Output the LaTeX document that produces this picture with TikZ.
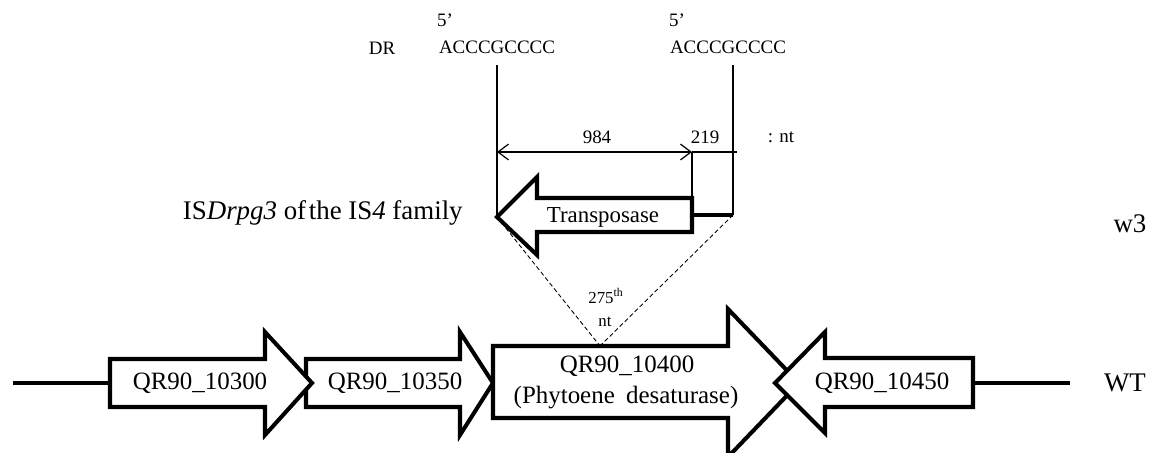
\documentclass[tikz,border=0pt]{standalone}
\usepackage{fontspec}
\setmainfont{Liberation Serif}
\usetikzlibrary{arrows.meta}
\newcommand{\fsz}[1]{\fontsize{#1}{1.2\dimexpr#1\relax}\selectfont}
\tikzset{
  gene/.style={draw=black, fill=white, line width=2.3pt, line join=miter},
  thinline/.style={draw=black, line width=0.7pt},
  dashline/.style={draw=black, line width=0.5pt, dash pattern=on 2.5pt off 1.5pt},
  dimarrow/.style={thinline, {Straight Barb[length=6pt,width=9pt]}-{Straight Barb[length=6pt,width=9pt]}},
  genelabel/.style={inner sep=0pt, font=\fsz{14.2pt}},
  biglabel/.style={inner sep=0pt, font=\fsz{15.3pt}},
  smalllabel/.style={inner sep=0pt, font=\fsz{10.8pt}},
  tinylabel/.style={inner sep=0pt, font=\fsz{9.6pt}},
}
\begin{document}
\begin{tikzpicture}[x=0.02cm, y=-0.02cm]
\useasboundingbox (0,0) rectangle (1160,453);

% key coordinates
\coordinate (tipT) at (497,217);
\coordinate (endT) at (733,215);
\coordinate (ins) at (600,346);
\coordinate (vL) at (497,65);
\coordinate (vR) at (733,65);
\coordinate (dimL) at (497,152);
\coordinate (dimM) at (692,152);
\coordinate (dimR) at (737,152);
\coordinate (bodyTop) at (692,198);
\coordinate (lineL0) at (13,383);
\coordinate (lineL1) at (110,383);
\coordinate (lineR0) at (973,383);
\coordinate (lineR1) at (1070,383);

% baseline segments
\draw[line width=2.3pt] (lineL0) -- (lineL1);
\draw[line width=2.3pt] (lineR0) -- (lineR1);

% vertical reference lines and dimension
\draw[thinline] (vL) -- (tipT);
\draw[thinline] (vR) -- (endT);
\draw[dimarrow] (dimL) -- (dimM);
\draw[thinline] (dimM) -- (dimR);
\draw[thinline] (dimM) -- (bodyTop);

% dashed insertion lines
\draw[dashline] (tipT) -- (ins);
\draw[dashline] (endT) -- (ins);

% gene arrows
\draw[gene] (306,359) -- (460,359) -- (460,332) -- (493,383) -- (460,435) -- (460,407) -- (306,407) -- cycle;
\draw[gene] (110,359) -- (265,359) -- (265,332) -- (312,383) -- (265,435) -- (265,407) -- (110,407) -- cycle;
\draw[gene] (493,346) -- (728,346) -- (728,309) -- (799,383) -- (728,457) -- (728,418) -- (493,418) -- cycle;
\draw[gene] (973,358) -- (825,358) -- (825,332) -- (775,383) -- (825,433) -- (825,407) -- (973,407) -- cycle;

% transposase arrow
\draw[line width=2.3pt] (692,215) -- (endT);
\draw[gene] (692,198) -- (537,198) -- (537,177) -- (tipT) -- (537,255) -- (537,232) -- (692,232) -- cycle;

% labels
\node[genelabel] (g1) at (200,383) {QR90\_10300};
\node[genelabel] (g2) at (395,383) {QR90\_10350};
\node[genelabel] (g3) at (627,366) {QR90\_10400};
\node[genelabel] (g3b) at (626,398) {(Phytoene\hspace{0.45em}desaturase)};
\node[genelabel] (g4) at (882,383) {QR90\_10450};
\node[inner sep=0pt, font=\fsz{13pt}] (tp) at (603,217) {Transposase};
\node[biglabel, anchor=east] (isl) at (463,213) {IS\textit{Drpg3} of\hspace{0.1em}the IS\textit{4} family};
\node[biglabel] (wt) at (1125,383) {WT};
\node[biglabel] (w3) at (1130,224) {w3};

\node[smalllabel] (dr) at (382,48) {DR};
\node[smalllabel] (p1) at (445,20) {5’};
\node[smalllabel] (s1) at (497,47) {ACCCGCCCC};
\node[smalllabel] (p2) at (677,20) {5’};
\node[smalllabel] (s2) at (728,47) {ACCCGCCCC};
\node[smalllabel] (n984) at (597,137) {984};
\node[smalllabel] (n219) at (705,137) {219};
\node[smalllabel] (unit) at (781,137) {: nt};
\node[tinylabel] (n275) at (606,296) {275\textsuperscript{th}};
\node[tinylabel] (nt) at (605,322) {nt};
\end{tikzpicture}
\end{document}
